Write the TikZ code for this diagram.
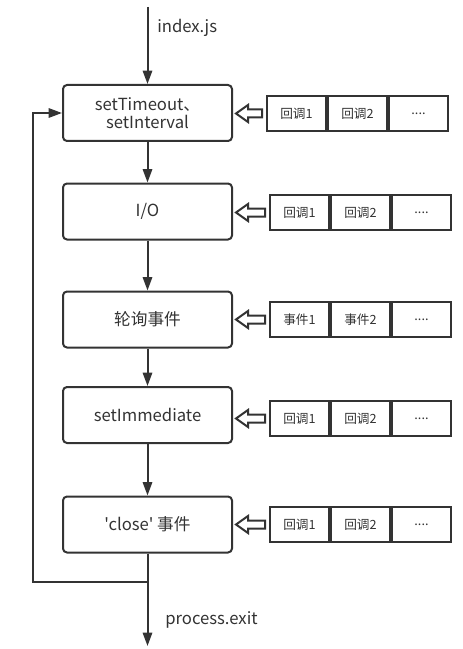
\documentclass[tikz,border=0pt]{standalone}
\usepackage{fontspec}
\setmainfont{Noto Sans CJK SC}[Ligatures=TeXOff]
\usetikzlibrary{arrows.meta,calc}
\definecolor{ink}{HTML}{333333}
\begin{document}
\begin{tikzpicture}[x=0.75pt,y=-0.75pt,
  every node/.style={text=ink},
  stage/.style={draw=ink,line width=1.5pt,rounded corners=3pt,minimum width=169*0.75pt,minimum height=56*0.75pt,inner sep=0pt,align=center,font=\fontsize{12.5}{15}\selectfont},
  cell/.style={draw=ink,line width=1.5pt,minimum width=59*0.75pt,minimum height=35*0.75pt,inner sep=0pt,anchor=west,font=\fontsize{9.5}{11}\selectfont},
  arr/.style={draw=ink,line width=1.5pt,-{Triangle[length=10pt,width=7pt]}},
  hollow/.style={draw=ink,line width=1.5pt,fill=white,line join=miter},
  lbl/.style={anchor=west,inner sep=0pt,font=\fontsize{12.5}{15}\selectfont}]
\useasboundingbox (0,0) rectangle (463,649);
\fill[white] (0,0) rectangle (463,649);

% stages
\node[stage] (b1) at (147.5,113) {setTimeout、\\[-1pt]setInterval};
\node[stage] (b2) at (147.5,211.5) {I/O};
\node[stage] (b3) at (147.5,319.5) {轮询事件};
\node[stage] (b4) at (147.5,415) {setImmediate};
\node[stage] (b5) at (147.5,524.5) {'close' 事件};

% queues
\node[cell] (q1a) at (266,113.5) {回调1};
\node[cell] (q1b) at (q1a.east) {回调2};
\node[cell] (q1c) at (q1b.east) {....};
\node[cell] (q2a) at (269,212.5) {回调1};
\node[cell] (q2b) at (q2a.east) {回调2};
\node[cell] (q2c) at (q2b.east) {....};
\node[cell] (q3a) at (269,319.5) {事件1};
\node[cell] (q3b) at (q3a.east) {事件2};
\node[cell] (q3c) at (q3b.east) {....};
\node[cell] (q4a) at (269,418.5) {回调1};
\node[cell] (q4b) at (q4a.east) {回调2};
\node[cell] (q4c) at (q4b.east) {....};
\node[cell] (q5a) at (269,524.5) {回调1};
\node[cell] (q5b) at (q5a.east) {回调2};
\node[cell] (q5c) at (q5b.east) {....};

% hollow arrows (queue -> stage)
\foreach \b/\q in {b1/q1a,b2/q2a,b3/q3a,b4/q4a,b5/q5a}{
  \path ($(\q.west)+(-4,0)$) coordinate (t);
  \path (\b.east |- t) coordinate (s);
  \draw[hollow] ($(s)+(3,0)$) -- ($(s)+(15,-8.5)$) -- ($(s)+(15,-4)$) -- ($(t)+(0,-4)$)
     -- ($(t)+(0,4)$) -- ($(s)+(15,4)$) -- ($(s)+(15,8.5)$) -- cycle;
}

% flow
\coordinate (start) at (147.5,7);
\coordinate (join) at (147.5,582);
\coordinate (lx) at (33,300);
\coordinate (exit) at (147.5,646);
\draw[arr] (start) -- (b1.north);
\draw[arr] (b1) -- (b2);
\draw[arr] (b2) -- (b3);
\draw[arr] (b3) -- (b4);
\draw[arr] (b4) -- (b5);
\draw[arr] (b5.south) -- (exit);
\draw[arr] (join) -| (lx) |- (b1.west);

\node[lbl] (ij) at (157,28) {index.js};
\node[lbl] (pe) at (165,620) {process.exit};
\end{tikzpicture}
\end{document}
